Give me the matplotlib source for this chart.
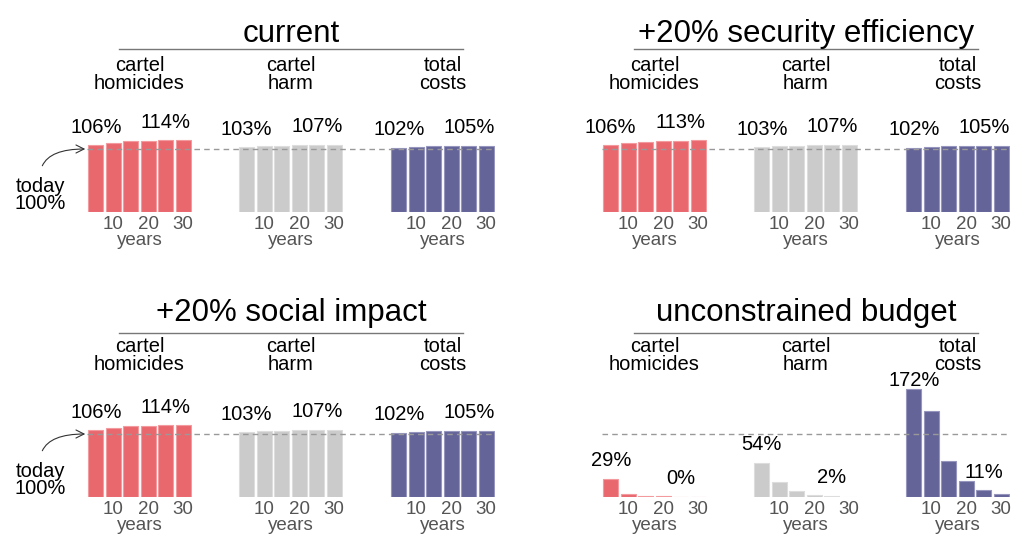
import matplotlib
matplotlib.use('Agg')
import matplotlib.pyplot as plt
from matplotlib.lines import Line2D

plt.rcParams['font.family'] = ['Liberation Sans', 'DejaVu Sans']

# data (percent of today)
years = [5, 10, 15, 20, 25, 30]
scenarios = ['current', '+20% security efficiency', '+20% social impact', 'unconstrained budget']
groups = ['cartel\nhomicides', 'cartel\nharm', 'total\ncosts']

current_homicides = [106, 109.8, 112.1, 113.1, 114, 115]
current_harm = [103, 104.5, 105.5, 106.5, 107, 107]
current_costs = [102, 102.9, 104.1, 104.6, 105, 105]

security_homicides = [106, 109.3, 111.1, 112.5, 113, 113.5]
security_harm = [103, 104.5, 105.5, 106.5, 107, 107]
security_costs = [102, 102.9, 104.1, 104.6, 105, 105]

social_homicides = [106, 109.8, 112.1, 113.1, 114, 115]
social_harm = [103, 104.5, 105.5, 106.5, 107, 107]
social_costs = [102, 102.9, 104.1, 104.6, 105, 105]

budget_homicides = [29, 5, 1.5, 0.8, 0.4, 0.3]
budget_harm = [54, 23.6, 9.4, 3.7, 1.6, 0.5]
budget_costs = [172, 136.5, 57, 25.1, 10.7, 4.2]

values = [
    [current_homicides, current_harm, current_costs],
    [security_homicides, security_harm, security_costs],
    [social_homicides, social_harm, social_costs],
    [budget_homicides, budget_harm, budget_costs],
]
label_idx = [0, 4]

colors = ['#E9686E', '#CBCBCB', '#646498']
edge_colors = ['#F29A9E', '#DDDDDD', '#9595BD']

# layout, in pixels of the 1029x552 picture
W, H = 1029, 552
col_dx = [0, 515]
title_y = [42, 321]
line_y = [49, 333]
sub_top = [56, 337]
base_y = [212, 497]
group_left = [87, 238, 390]
group_w = 105
axes_h = 126


def fx(px):
    return px / W


def fy(py):
    return 1 - py / H


fig = plt.figure(figsize=(W / 100, H / 100), dpi=100)

for p, title in enumerate(scenarios):
    row, col = p // 2, p % 2
    dx = col_dx[col]
    by = base_y[row]

    fig.text(fx(291 + dx), fy(title_y[row]), title, ha='center', va='baseline', fontsize=22.5)
    fig.add_artist(Line2D([fx(119 + dx), fx(463 + dx)], [fy(line_y[row])] * 2,
                          color='#777777', lw=1))

    for g in range(3):
        vals = values[p][g]
        ax = fig.add_axes([fx(group_left[g] + dx), fy(by), fx(group_w), axes_h / H])
        ax.bar(years, vals, width=4.4, color=colors[g], edgecolor=edge_colors[g], linewidth=0.8)
        ax.set_xlim(2.5, 32.5)
        ax.set_ylim(0, 200)
        ax.set_xticks([10, 20, 30])
        ax.set_yticks([])
        ax.tick_params(axis='x', length=0, labelsize=13.5, labelcolor='#555555', pad=3)
        for s in ax.spines.values():
            s.set_visible(False)
        ax.patch.set_visible(False)
        ax.set_xlabel('years', fontsize=13.5, color='#555555', labelpad=-1)

        fig.text(fx(group_left[g] + dx + group_w / 2), fy(sub_top[row]), groups[g],
                 ha='center', va='top', fontsize=14.5, linespacing=0.95)

        for i in label_idx:
            v = vals[i]
            off = 9 if v < 150 else 2
            ax.annotate(f'{round(v)}%', (years[i], v), xytext=(0, off),
                        textcoords='offset points', ha='center', va='baseline',
                        fontsize=14.5, annotation_clip=False)

        if g == 0 and col == 0:
            ax.annotate('today\n100%', xy=(2.0, 100), xytext=(-32.5, -33),
                        textcoords='offset points', ha='center', va='center',
                        fontsize=14.5, linespacing=0.9, annotation_clip=False,
                        arrowprops=dict(arrowstyle='->', color='#333333', lw=0.8,
                                        connectionstyle='angle3,angleA=90,angleB=0',
                                        relpos=(0.5, 1.0), shrinkA=6, shrinkB=0))

    # dashed "today" reference line across the whole panel
    pax = fig.add_axes([fx(group_left[0] + dx), fy(by),
                        fx(group_left[2] + group_w - group_left[0]), axes_h / H])
    pax.set_ylim(0, 200)
    pax.axis('off')
    pax.axhline(100, ls=(0, (4, 3)), color='#999999', lw=1)

fig.savefig('out.png', dpi=100)
